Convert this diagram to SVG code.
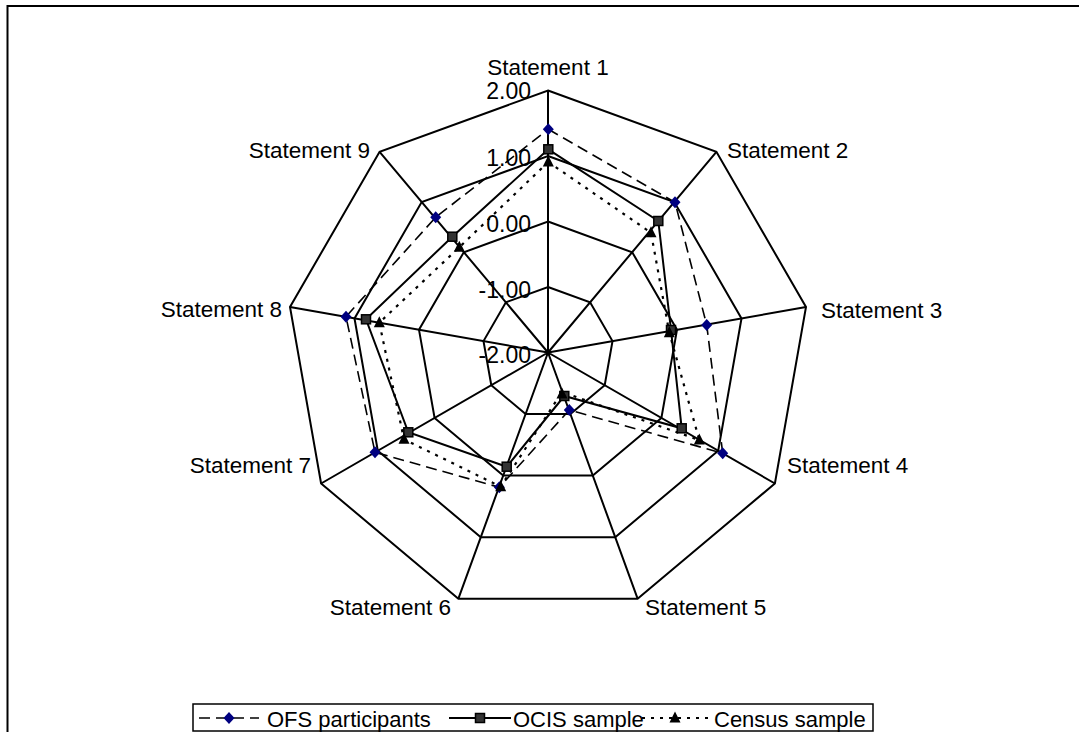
<svg xmlns="http://www.w3.org/2000/svg" xmlns:xlink="http://www.w3.org/1999/xlink" width="1079" height="732" viewBox="0 0 1079 732">
<style>
.lbl{font-family:"Liberation Sans",Arial,sans-serif;font-size:22.5px;fill:#000}
.ax{font-family:"Liberation Sans",Arial,sans-serif;font-size:23px;fill:#000;text-anchor:end}
.leg{font-family:"Liberation Sans",Arial,sans-serif;font-size:22px;fill:#000}
.grid{fill:none;stroke:#000;stroke-width:2}
.ofs{fill:none;stroke:#000;stroke-width:1.6;stroke-dasharray:11 6}
.ocis{fill:none;stroke:#000;stroke-width:2}
.cen{fill:none;stroke:#000;stroke-width:2.2;stroke-dasharray:3 6}
</style>
<defs>
<path id="dia" d="M0,-6 L5.5,0 L0,6 L-5.5,0 Z" fill="#000080"/>
<rect id="sq" x="-4.5" y="-4.5" width="9" height="9" fill="#333" stroke="#000" stroke-width="1.5"/>
<path id="tri" d="M0,-6.5 L5.5,4.5 L-5.5,4.5 Z" fill="#000"/>
</defs>
<rect x="0" y="0" width="1079" height="732" fill="#fff"/>
<path d="M7.5,732 V6 H1079" fill="none" stroke="#000" stroke-width="2"/>

<g id="grid">
<polygon class="grid" points="548,90.5 716.4,151.8 806,307 774.9,483.5 637.6,598.7 458.4,598.7 321.1,483.5 290,307 379.6,151.8"/>
<polygon class="grid" points="548,156 674.3,202 741.5,318.4 718.2,450.75 615.2,537.2 480.8,537.2 377.8,450.75 354.5,318.4 421.7,202"/>
<polygon class="grid" points="548,221.5 632.2,252.2 677,329.8 661.4,418 592.8,475.6 503.2,475.6 434.6,418 419,329.8 463.8,252.2"/>
<polygon class="grid" points="548,287 590.1,302.3 612.5,341.1 604.7,385.25 570.4,414.05 525.6,414.05 491.3,385.25 483.5,341.1 505.9,302.3"/>
<path class="grid" d="M548,352.5 L548,90.5 M548,352.5 L716.4,151.8 M548,352.5 L806,307 M548,352.5 L774.9,483.5 M548,352.5 L637.6,598.7 M548,352.5 L458.4,598.7 M548,352.5 L321.1,483.5 M548,352.5 L290,307 M548,352.5 L379.6,151.8"/>
</g>

<g id="axis-labels">
<text class="ax" x="531" y="99">2.00</text>
<text class="ax" x="531" y="166">1.00</text>
<text class="ax" x="531" y="232">0.00</text>
<text class="ax" x="531" y="298">-1.00</text>
<text class="ax" x="531" y="363">-2.00</text>
</g>

<g id="statement-labels">
<text class="lbl" x="548" y="75" text-anchor="middle">Statement 1</text>
<text class="lbl" x="727" y="158">Statement 2</text>
<text class="lbl" x="821" y="318">Statement 3</text>
<text class="lbl" x="787" y="473">Statement 4</text>
<text class="lbl" x="645" y="615">Statement 5</text>
<text class="lbl" x="451" y="615" text-anchor="end">Statement 6</text>
<text class="lbl" x="311" y="473" text-anchor="end">Statement 7</text>
<text class="lbl" x="282" y="317" text-anchor="end">Statement 8</text>
<text class="lbl" x="370" y="158" text-anchor="end">Statement 9</text>
</g>

<g id="connectors">
<polygon id="ofs-line" class="ofs" points="548.3,129.3 675,202.3 706.7,325 722.7,453.3 569.3,410 499.3,487.3 375,452.3 346,316.7 435.7,217.3"/>
<polygon id="ocis-line" class="ocis" points="548.3,149.3 658.3,221 671,330 681.7,428.3 564.3,396 506.7,466.7 408.3,432.3 366,319.3 452.3,236.7"/>
<polygon id="census-line" class="cen" points="548.3,162 651,232.7 669.3,332.7 699.3,440 562,392 500.7,486.7 404,439.3 379.3,322.7 459.3,247.3"/>
</g>

<g id="ofs-markers">
<use xlink:href="#dia" x="548.3" y="129.3"/>
<use xlink:href="#dia" x="675" y="202.3"/>
<use xlink:href="#dia" x="706.7" y="325"/>
<use xlink:href="#dia" x="722.7" y="453.3"/>
<use xlink:href="#dia" x="569.3" y="410"/>
<use xlink:href="#dia" x="499.3" y="487.3"/>
<use xlink:href="#dia" x="375" y="452.3"/>
<use xlink:href="#dia" x="346" y="316.7"/>
<use xlink:href="#dia" x="435.7" y="217.3"/>
</g>
<g id="ocis-markers">
<use xlink:href="#sq" x="548.3" y="149.3"/>
<use xlink:href="#sq" x="658.3" y="221"/>
<use xlink:href="#sq" x="671" y="330"/>
<use xlink:href="#sq" x="681.7" y="428.3"/>
<use xlink:href="#sq" x="564.3" y="396"/>
<use xlink:href="#sq" x="506.7" y="466.7"/>
<use xlink:href="#sq" x="408.3" y="432.3"/>
<use xlink:href="#sq" x="366" y="319.3"/>
<use xlink:href="#sq" x="452.3" y="236.7"/>
</g>
<g id="census-markers">
<use xlink:href="#tri" x="548.3" y="162"/>
<use xlink:href="#tri" x="651" y="232.7"/>
<use xlink:href="#tri" x="669.3" y="332.7"/>
<use xlink:href="#tri" x="699.3" y="440"/>
<use xlink:href="#tri" x="562" y="394"/>
<use xlink:href="#tri" x="500.7" y="486.7"/>
<use xlink:href="#tri" x="404" y="439.3"/>
<use xlink:href="#tri" x="379.3" y="322.7"/>
<use xlink:href="#tri" x="459.3" y="247.3"/>
</g>

<g id="legend">
<rect x="193" y="704" width="680" height="27" fill="#fff" stroke="#000" stroke-width="1.5"/>
<line x1="199" y1="718" x2="259" y2="718" class="ofs" stroke-dasharray="10 7"/>
<use xlink:href="#dia" x="229" y="718"/>
<text class="leg" x="267" y="727">OFS participants</text>
<line x1="449" y1="718" x2="511" y2="718" class="ocis"/>
<use xlink:href="#sq" x="480" y="718"/>
<text class="leg" x="513" y="727">OCIS sample</text>
<line x1="642" y1="718" x2="709" y2="718" class="cen" stroke-dasharray="3 6"/>
<use xlink:href="#tri" x="675" y="718"/>
<text class="leg" x="714" y="727">Census sample</text>
</g>
</svg>
